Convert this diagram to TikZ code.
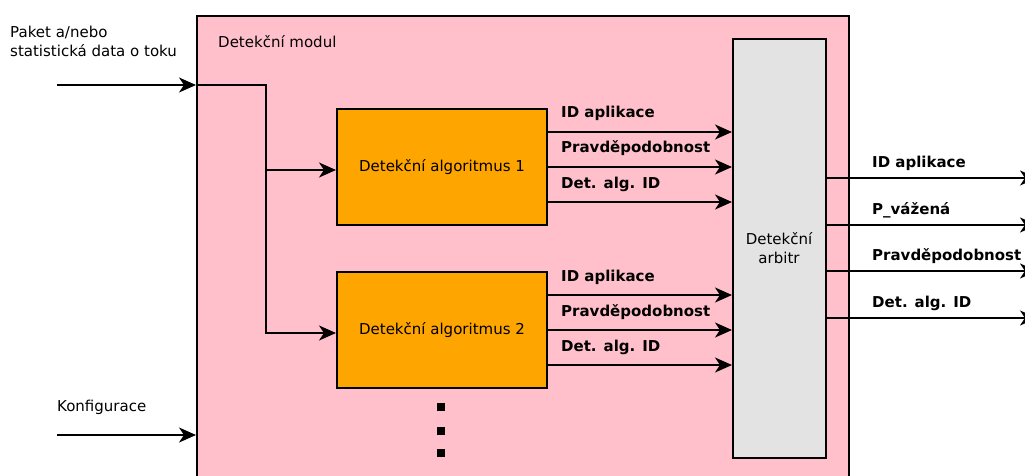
\documentclass[tikz,border=0pt]{standalone}
\usepackage{fontspec}
\setmainfont{DejaVu Sans}
\usetikzlibrary{arrows.meta}
\definecolor{modpink}{RGB}{255,192,203}
\definecolor{algorange}{RGB}{255,165,0}
\definecolor{arbgray}{RGB}{227,227,227}
\begin{document}
\begin{tikzpicture}[x=1pt,y=-1pt,
  every node/.style={font=\fontsize{15}{19}\selectfont},
  box/.style={draw=black,line width=2pt,anchor=north west,inner sep=0pt,align=center},
  arr/.style={line width=2pt,-{Stealth[length=17pt,width=15pt,inset=5pt]}},
  lbl/.style={anchor=base west,inner sep=0pt,font=\fontsize{15}{19}\selectfont\bfseries},
  txt/.style={anchor=base west,inner sep=0pt,align=left},
  dot/.style={fill=black,minimum size=8pt,inner sep=0pt}]
\useasboundingbox (0,0) rectangle (1025,476);
\clip (0,0) rectangle (1025,476);
\node[box,fill=modpink,minimum width=652pt,minimum height=500pt] (module) at (196,15) {};
\node[txt] (title) at (218,48) {Detekční modul};
\node[box,fill=algorange,minimum width=210pt,minimum height=116pt] (a1) at (336,108) {Detekční algoritmus 1};
\node[box,fill=algorange,minimum width=210pt,minimum height=116pt] (a2) at (336,271) {Detekční algoritmus 2};
\node[box,fill=arbgray,minimum width=93pt,minimum height=419pt] (arb) at (732,38) {};
\node[align=center,inner sep=0pt] (arbtxt) at (779,248) {Detekční\\[0pt]arbitr};
% input
\node[txt] (inlbl1) at (10,38) {Paket a/nebo};
\node[txt] (inlbl2) at (10,57) {statistická data o toku};
\coordinate (inL) at (57,85);
\coordinate (br) at (266,85);
\draw[arr] (inL) -- (inL -| module.west);
\draw[arr] (inL -| module.west) -- (br) |- ([yshift=-3pt]a1.west);
\draw[arr] (br) |- ([yshift=-3pt]a2.west);
% config
\node[txt] (cfg) at (57,411) {Konfigurace};
\coordinate (cfgL) at (57,435);
\draw[arr] (cfgL) -- (cfgL -| module.west);
% algo outputs
\foreach \s/\t [count=\i] in {35/ID aplikace,0/Pravděpodobnost,-35/Det. alg. ID}{
  \draw[arr] ([yshift=\s pt]a1.east) -- ([yshift=\s pt]a1.east -| arb.west);
  \node[lbl] (a1l\i) at ([xshift=13pt,yshift={\s pt+14pt}]a1.east) {\t};
  \draw[arr] ([yshift=\s pt]a2.east) -- ([yshift=\s pt]a2.east -| arb.west);
  \node[lbl] (a2l\i) at ([xshift=13pt,yshift={\s pt+14pt}]a2.east) {\t};
}
% arbiter outputs
\foreach \y/\t [count=\i] in {178/ID aplikace,225/P\_vážená,271/Pravděpodobnost,318/Det. alg. ID}{
  \coordinate (o\i) at (1037,\y);
  \draw[arr] (o\i -| arb.east) -- (o\i);
  \node[lbl] (ol\i) at (872,\y-11) {\t};
}
% dots
\node[dot] (d1) at (441,407) {};
\node[dot] (d2) at (441,431) {};
\node[dot] (d3) at (441,453) {};
\end{tikzpicture}
\end{document}
